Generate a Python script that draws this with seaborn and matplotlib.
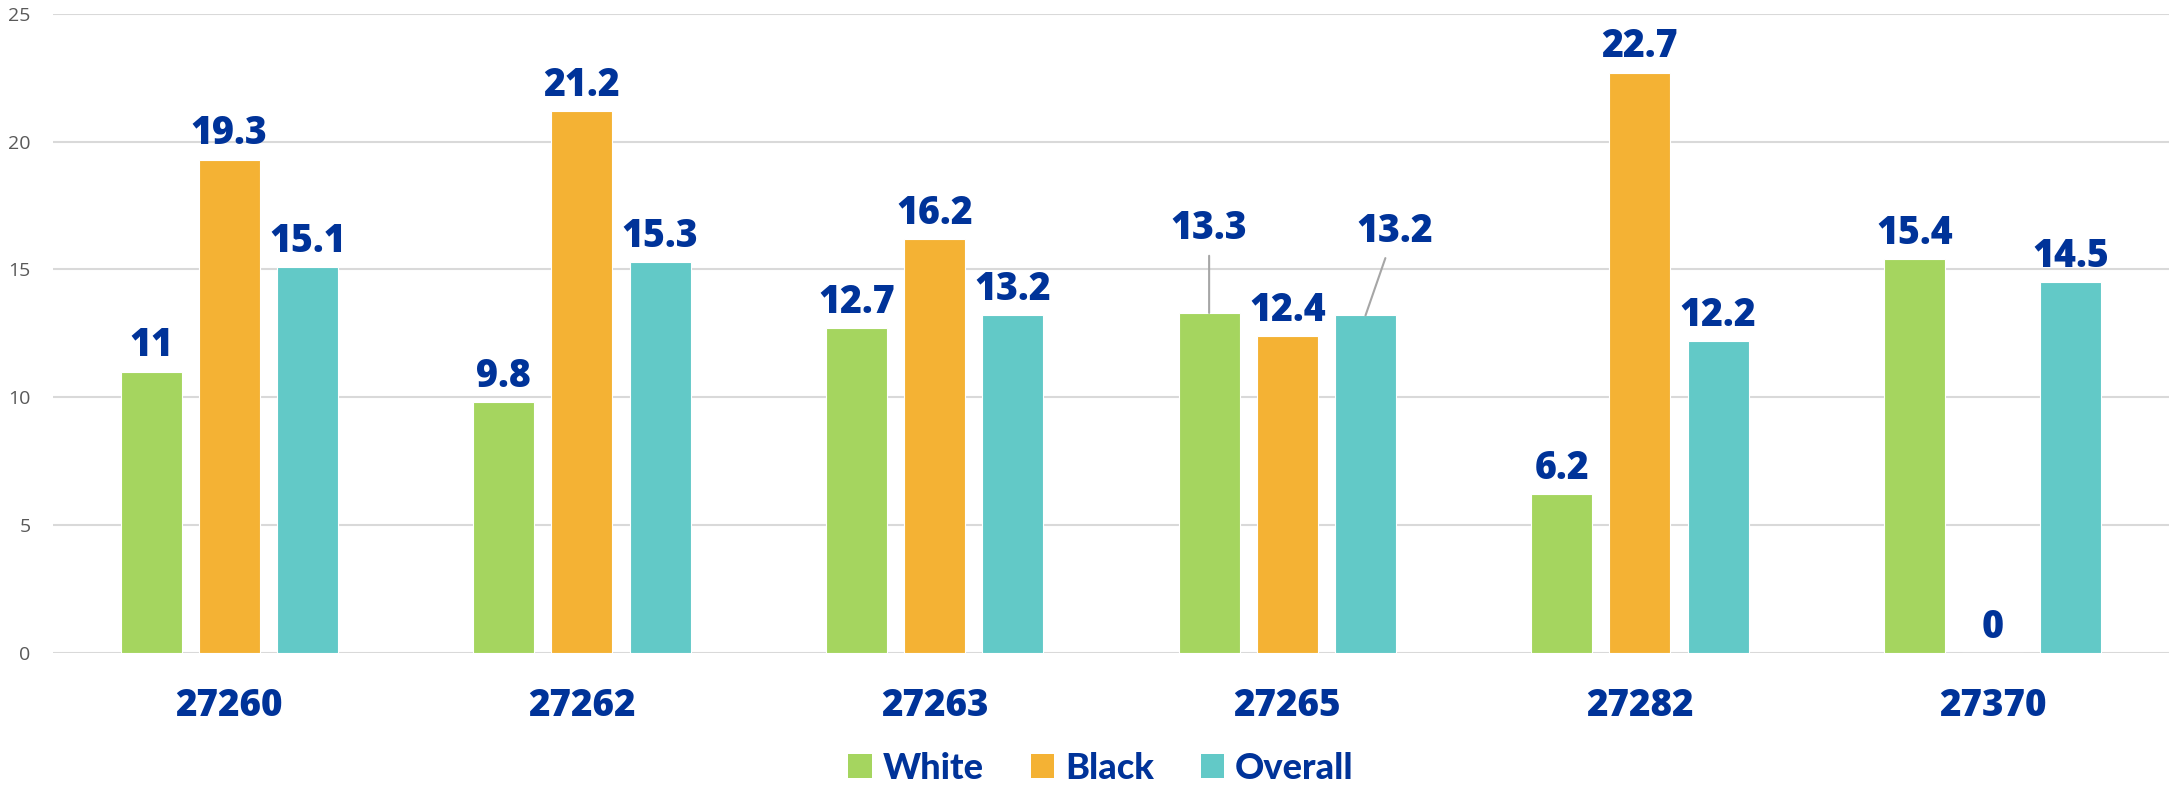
import matplotlib
matplotlib.use("Agg")
import matplotlib.pyplot as plt
import seaborn as sns
import pandas as pd
import numpy as np
from matplotlib.patches import Patch

zips = ["27260", "27262", "27263", "27265", "27282", "27370"]
groups = ["White", "Black", "Overall"]
white = [11, 9.8, 12.7, 13.3, 6.2, 15.4]
black = [19.3, 21.2, 16.2, 12.4, 22.7, 0]
overall = [15.1, 15.3, 13.2, 13.2, 12.2, 14.5]
value_labels = {
    "White": ["11", "9.8", "12.7", "13.3", "6.2", "15.4"],
    "Black": ["19.3", "21.2", "16.2", "12.4", "22.7", "0"],
    "Overall": ["15.1", "15.3", "13.2", "13.2", "12.2", "14.5"],
}
colors = ["#A5D55F", "#F4B234", "#62C9C7"]
label_color = "#003399"

df = pd.DataFrame({
    "zip": zips * 3,
    "group": ["White"] * 6 + ["Black"] * 6 + ["Overall"] * 6,
    "value": white + black + overall,
})

sns.set_theme(style="white")
plt.rcParams["font.family"] = ["Open Sans", "DejaVu Sans"]

fig = plt.figure(figsize=(21.69, 7.89), dpi=100)
ax = fig.add_axes([0.0244, 0.1724, 0.9756, 0.8101])

sns.barplot(data=df, x="zip", y="value", hue="group", order=zips,
            hue_order=groups, palette=colors, width=0.665, gap=0.22,
            ax=ax, legend=False, edgecolor="white", linewidth=0.8,
            saturation=1)

ax.set_xlim(-0.5, 5.5)
ax.set_ylim(0, 25)
ax.set_yticks([0, 5, 10, 15, 20, 25])
ax.grid(axis="y", color="#D9D9D9", linewidth=1.5)
ax.set_axisbelow(True)
for s in ax.spines.values():
    s.set_visible(False)
ax.set_xlabel("")
ax.set_ylabel("")
ax.tick_params(axis="y", labelsize=14, labelcolor="#595959", pad=16, length=0)
ax.tick_params(axis="x", labelsize=26.5, labelcolor=label_color, pad=25, length=0)
for t in ax.get_xticklabels():
    t.set_fontweight(800)

# leader-line labels (manually moved in the source)
moved = {("White", 3): (0, 53), ("Overall", 3): (21, 53)}

for g, cont in zip(groups, ax.containers):
    for i, bar in enumerate(cont):
        x = bar.get_x() + bar.get_width() / 2
        y = bar.get_height()
        txt = value_labels[g][i]
        if (g, i) in moved:
            dx, dy = moved[(g, i)]
            ax.annotate(txt, xy=(x, y), xytext=(dx, dy), textcoords="offset points",
                        ha="center", va="baseline", fontsize=27, fontweight=800,
                        color=label_color,
                        arrowprops=dict(arrowstyle="-", color="#A6A6A6", lw=1.5,
                                        shrinkA=3, shrinkB=0))
        else:
            ax.annotate(txt, xy=(x, y), xytext=(0, 11), textcoords="offset points",
                        ha="center", va="baseline", fontsize=27, fontweight=800,
                        color=label_color)

handles = [Patch(facecolor=c, edgecolor="none") for c in colors]
leg = fig.legend(handles, groups, loc="center", bbox_to_anchor=(0.5076, 0.0266),
                 ncol=3, frameon=False, handlelength=0.65, handleheight=0.65,
                 handletextpad=0.3, columnspacing=1.3,
                 prop={"family": ["Lato", "DejaVu Sans"], "weight": 900, "size": 26})
for t in leg.get_texts():
    t.set_color(label_color)

fig.savefig("out.png", dpi=100)
